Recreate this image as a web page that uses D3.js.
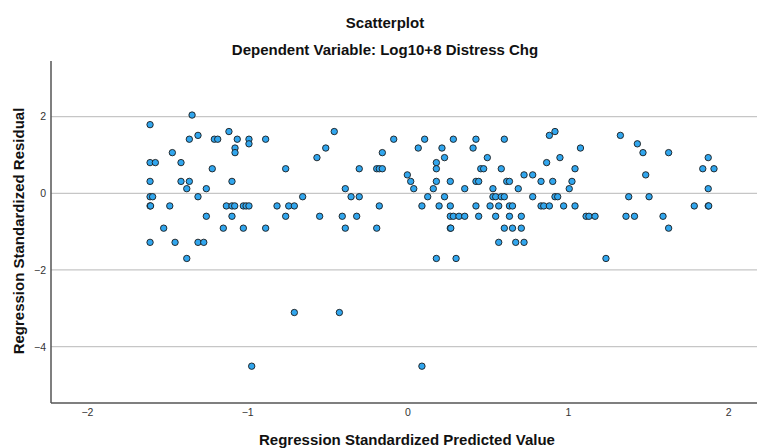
<!DOCTYPE html>
<html>
<head>
<meta charset="utf-8">
<script src="https://cdn.jsdelivr.net/npm/d3@7"></script>
<style>
  html, body { margin: 0; padding: 0; background: #fff; }
  svg { display: block; font-family: "Liberation Sans", Arial, sans-serif; }
</style>
</head>
<body>
<svg id="chart" width="757" height="448"></svg>
<script>
// Regression standardized predicted values (x) and residuals (y), one entry per case
const predicted = [
  -1.606, -1.606, -1.573, -1.606, -1.606, -1.590, -1.606, -1.603, -1.606, -1.521,
  -1.483, -1.467, -1.450, -1.413, -1.413, -1.377, -1.377, -1.361, -1.361, -1.344,
  -1.307, -1.307, -1.307, -1.271, -1.255, -1.255, -1.218, -1.205, -1.184, -1.149,
  -1.130, -1.114, -1.095, -1.095, -1.095, -1.078, -1.076, -1.076, -1.062, -1.024,
  -1.024, -1.007, -0.989, -0.989, -0.989, -0.972, -0.885, -0.885, -0.814, -0.760,
  -0.760, -0.741, -0.706, -0.706, -0.654, -0.565, -0.548, -0.510, -0.457, -0.425,
  -0.407, -0.388, -0.388, -0.352, -0.317, -0.301, -0.301, -0.192, -0.192, -0.176,
  -0.176, -0.157, -0.157, -0.086, -0.001, 0.020, 0.039, 0.067, 0.090, 0.090,
  0.107, 0.126, 0.161, 0.180, 0.180, 0.180, 0.180, 0.197, 0.215, 0.231,
  0.231, 0.267, 0.267, 0.267, 0.286, 0.321, 0.357, 0.267, 0.270, 0.286,
  0.303, 0.357, 0.409, 0.427, 0.427, 0.444, 0.427, 0.444, 0.457, 0.475,
  0.498, 0.515, 0.533, 0.533, 0.550, 0.585, 0.604, 0.550, 0.569, 0.569,
  0.585, 0.604, 0.604, 0.619, 0.636, 0.636, 0.655, 0.636, 0.655, 0.675,
  0.691, 0.710, 0.710, 0.727, 0.727, 0.781, 0.781, 0.833, 0.833, 0.850,
  0.885, 0.868, 0.885, 0.920, 0.906, 0.920, 0.937, 0.951, 0.974, 1.009,
  1.026, 1.045, 1.045, 1.079, 1.114, 1.132, 1.170, 1.238, 1.328, 1.363,
  1.380, 1.416, 1.434, 1.469, 1.486, 1.507, 1.594, 1.629, 1.629, 1.789,
  1.842, 1.876, 1.876, 1.876, 1.879, 1.912
];
const residual = [
  1.79, 0.80, 0.80, 0.31, -0.09, -0.09, -0.33, -0.33, -1.28, -0.91,
  -0.33, 1.06, -1.28, 0.80, 0.31, 0.12, -1.70, 1.41, 0.31, 2.04,
  1.51, -0.09, -1.28, -1.28, 0.12, -0.60, 0.64, 1.41, 1.41, -0.91,
  -0.33, 1.61, 0.31, -0.33, -0.60, -0.33, 1.18, 1.06, 1.41, -0.33,
  -0.91, -0.33, 1.41, 1.29, -0.33, -4.51, 1.41, -0.91, -0.33, 0.64,
  -0.60, -0.33, -0.33, -3.11, -0.09, 0.93, -0.60, 1.18, 1.61, -3.11,
  -0.60, 0.12, -0.91, -0.09, -0.60, 0.64, -0.09, 0.64, -0.91, 0.64,
  -0.33, 0.64, 1.06, 1.41, 0.48, 0.31, 0.12, 1.18, -0.33, -4.51,
  1.41, -0.09, 0.12, 0.80, 0.64, 0.31, -1.70, -0.33, 1.18, 0.93,
  -0.09, 0.31, -0.33, -0.60, -0.60, -0.60, -0.60, -0.91, -0.91, 1.41,
  -1.70, 0.12, 1.18, 1.41, 0.31, 0.31, -0.33, -0.60, 0.64, 0.64,
  0.93, -0.33, 0.12, -0.09, -0.09, -0.09, -0.09, -0.60, -0.33, -1.28,
  0.64, 1.41, -0.91, 0.31, 0.31, -0.33, -0.33, -0.60, -0.91, -1.28,
  0.12, -0.60, -0.91, 0.48, -1.28, 0.48, -0.09, 0.31, -0.33, -0.33,
  -0.33, 0.80, 1.51, 1.61, 0.31, -0.09, -0.09, 0.93, -0.33, 0.12,
  0.31, 0.64, -0.33, 1.18, -0.60, -0.60, -0.60, -1.70, 1.51, -0.60,
  -0.09, -0.60, 1.29, 1.06, 0.48, -0.09, -0.60, 1.06, -0.91, -0.33,
  0.64, 0.93, 0.12, -0.33, -0.33, 0.64
];
const xTicks = [-2, -1, 0, 1, 2];
const yTicks = [-4, -2, 0, 2];

const titleText = "Scatterplot";
const subtitleText = "Dependent Variable: Log10+8 Distress Chg";
const xTitle = "Regression Standardized Predicted Value";
const yTitle = "Regression Standardized Residual";

const svg = d3.select("#chart");
const plot = { left: 51, right: 760, top: 61, bottom: 403 };

const x = d3.scaleLinear().domain([-2.224, 2.199]).range([plot.left, plot.right]);
const y = d3.scaleLinear().domain([-5.47, 3.45]).range([plot.bottom, plot.top]);

// horizontal reference lines
svg.append("g")
  .selectAll("line")
  .data(yTicks)
  .join("line")
  .attr("x1", plot.left).attr("x2", plot.right)
  .attr("y1", d => y(d)).attr("y2", d => y(d))
  .attr("stroke", "#c6c6c6")
  .attr("stroke-width", 1.2);

// axes (labels only, no tick marks)
const yAxis = svg.append("g")
  .attr("transform", `translate(${plot.left},0)`)
  .call(d3.axisLeft(y).tickValues(yTicks).tickSize(0).tickPadding(5).tickFormat(d3.format("d")));
const xAxis = svg.append("g")
  .attr("transform", `translate(0,${plot.bottom})`)
  .call(d3.axisBottom(x).tickValues(xTicks).tickSize(0).tickPadding(6).tickFormat(d3.format("d")));

[xAxis, yAxis].forEach(g => {
  g.select(".domain").attr("stroke", "#555").attr("stroke-width", 1.5);
  g.selectAll("text")
    .attr("font-family", "Liberation Sans, Arial, sans-serif")
    .attr("font-size", 10.5)
    .attr("fill", "#333");
});
yAxis.select(".domain").attr("d", `M0,${plot.top}V${plot.bottom}`);
xAxis.select(".domain").attr("d", `M${plot.left},0H${plot.right}`);

// points
const points = predicted.map((p, i) => ({ p, r: residual[i] }));
svg.append("g")
  .selectAll("circle")
  .data(points)
  .join("circle")
  .attr("cx", d => x(d.p))
  .attr("cy", d => y(d.r))
  .attr("r", 3.2)
  .attr("fill", "#31a6ee")
  .attr("stroke", "#1b1b1b")
  .attr("stroke-width", 0.9);

// titles
svg.append("text")
  .attr("x", 385).attr("y", 28)
  .attr("text-anchor", "middle")
  .attr("font-size", 15).attr("font-weight", "bold").attr("fill", "#111")
  .text(titleText);
svg.append("text")
  .attr("x", 385).attr("y", 55)
  .attr("text-anchor", "middle")
  .attr("font-size", 15).attr("font-weight", "bold").attr("fill", "#111")
  .text(subtitleText);
svg.append("text")
  .attr("x", 407).attr("y", 445)
  .attr("text-anchor", "middle")
  .attr("font-size", 15).attr("font-weight", "bold").attr("fill", "#111")
  .text(xTitle);
svg.append("text")
  .attr("transform", "translate(23.5,231) rotate(-90)")
  .attr("text-anchor", "middle")
  .attr("font-size", 15).attr("font-weight", "bold").attr("fill", "#111")
  .text(yTitle);
</script>
</body>
</html>
